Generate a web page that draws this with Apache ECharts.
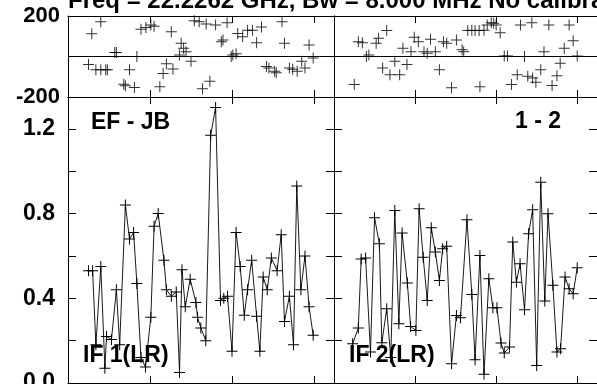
<!DOCTYPE html>
<html>
<head>
<meta charset="utf-8">
<script src="https://cdn.jsdelivr.net/npm/echarts/dist/echarts.min.js"></script>
<style>
html, body { margin: 0; padding: 0; background: #fff; }
#chart { width: 597px; height: 384px; }
</style>
</head>
<body>
<div id="chart"></div>
<script>
// amplitude vs time (time in axis-tick units), IF 1 and IF 2
var ampIF1 = [
  [0.25,0.53],[0.30,0.53],[0.34,0.18],[0.40,0.55],[0.45,0.07],[0.47,0.22],[0.53,0.205],
  [0.59,0.44],[0.63,0.18],[0.70,0.84],[0.75,0.68],[0.80,0.71],[0.84,0.47],[0.89,0.12],
  [0.945,0.075],[1.01,0.31],[1.05,0.74],[1.10,0.80],[1.17,0.58],[1.20,0.44],[1.26,0.41],
  [1.32,0.43],[1.36,0.05],[1.39,0.535],[1.43,0.36],[1.49,0.49],[1.56,0.38],[1.58,0.31],
  [1.62,0.26],[1.68,0.20],[1.74,1.17],[1.80,1.30],[1.86,0.39],[1.90,0.40],[1.945,0.41],
  [2.00,0.15],[2.05,0.71],[2.10,0.55],[2.15,0.32],[2.19,0.44],[2.24,0.58],[2.30,0.315],
  [2.34,0.15],[2.38,0.50],[2.43,0.44],[2.48,0.59],[2.55,0.53],[2.60,0.70],[2.64,0.29],
  [2.70,0.41],[2.75,0.18],[2.79,0.93],[2.84,0.44],[2.89,0.60],[2.94,0.36],[2.99,0.225]
];
var ampIF2 = [
  [0.23,0.185],[0.30,0.26],[0.335,0.585],[0.39,0.59],[0.45,0.146],[0.50,0.78],[0.56,0.657],
  [0.59,0.19],[0.65,0.35],[0.70,0.12],[0.75,0.814],[0.80,0.28],[0.84,0.708],[0.905,0.472],
  [0.945,0.267],[1.01,0.248],[1.05,0.822],[1.10,0.594],[1.15,0.39],[1.20,0.733],[1.25,0.618],
  [1.30,0.484],[1.34,0.634],[1.39,0.645],[1.45,0.091],[1.51,0.319],[1.56,0.308],[1.64,0.77],
  [1.70,0.418],[1.74,0.11],[1.80,0.602],[1.85,0.041],[1.91,0.492],[1.96,0.355],[2.01,0.355],
  [2.06,0.189],[2.10,0.142],[2.165,0.17],[2.205,0.665],[2.25,0.476],[2.295,0.563],[2.35,0.346],
  [2.40,0.704],[2.45,0.818],[2.50,0.083],[2.55,0.948],[2.60,0.387],[2.64,0.799],[2.70,0.461],
  [2.75,0.146],[2.795,0.162],[2.85,0.50],[2.90,0.445],[2.95,0.421],[3.00,0.544]
];
// phase (degrees) vs time
var phaseIF1 = [
  [0.25,-40],[0.29,112],[0.34,-66],[0.40,172],[0.40,-66],[0.46,-66],[0.48,-66],
  [0.57,20],[0.59,20],[0.68,-137],[0.70,-145],[0.75,-66],[0.81,-153],[0.84,0],
  [0.89,134],[0.95,143],[1.01,155],[1.05,150],[1.12,-149],[1.16,-84],[1.20,-36],[1.26,122],[1.28,-62],
  [1.36,8],[1.38,65],[1.41,41],[1.44,24],[1.50,-24],[1.54,176],[1.60,172],[1.64,-159],[1.685,160],
  [1.73,-122],[1.80,156],[1.87,73],[1.89,81],[1.94,167],[1.99,0],[2.01,8],[2.05,13],[2.07,114],
  [2.13,98],[2.19,130],[2.25,130],[2.30,68],[2.36,146],[2.42,-49],[2.45,-57],[2.52,-73],[2.54,-80],
  [2.61,171],[2.64,65],[2.70,-57],[2.74,-63],[2.795,-73],[2.85,-24],[2.89,-57],[2.94,57],[2.99,-8]
];
var phaseIF2 = [
  [0.25,-138],[0.30,73],[0.35,68],[0.40,0],[0.43,8],[0.52,65],[0.55,90],[0.60,-57],[0.65,128],
  [0.69,-90],[0.75,-24],[0.81,-90],[0.85,41],[0.90,-40],[0.95,24],[0.99,95],[1.04,73],[1.11,24],
  [1.15,16],[1.19,85],[1.25,24],[1.30,-65],[1.35,73],[1.39,65],[1.45,-154],[1.51,81],[1.58,33],
  [1.60,24],[1.65,128],[1.70,130],[1.74,128],[1.79,128],[1.80,-149],[1.85,130],[1.89,155],[1.94,167],
  [1.97,164],[2.00,155],[2.05,117],[2.10,3],[2.14,3],[2.19,-138],[2.26,-90],[2.30,155],[2.35,0],
  [2.39,-98],[2.44,167],[2.45,-106],[2.49,-127],[2.55,-65],[2.59,24],[2.65,155],[2.69,-143],
  [2.75,-95],[2.79,-33],[2.84,41],[2.90,155],[2.95,78],[3.00,3]
];

var titleText = 'Freq = 22.2262 GHz, Bw = 8.000 MHz No calibration';
var baselineLabels = ['EF - JB', '1 - 2'];
var ifLabels = ['IF 1(LR)', 'IF 2(LR)'];

var FONT = '"Liberation Sans", Arial, Helvetica, sans-serif';
var plus = 'path://M5,0h1v5h5v1h-5v5h-1v-5h-5v-1h5z';
var black = '#000';

var myChart = echarts.init(document.getElementById('chart'));

var grids = [
  {left: 68, top: 16, width: 266, height: 81},   // phase IF1
  {left: 334, top: 16, width: 266, height: 81},  // phase IF2
  {left: 68, top: 97, width: 266, height: 286},  // amp IF1
  {left: 334, top: 97, width: 266, height: 286}  // amp IF2
];

function phaseLabel(v) {
  return Math.abs(v) === 200 ? String(v) : '';
}
function ampLabel(v) {
  var k = Math.round(v * 10);
  // 0.0 sits on the window edge, drawn separately below so it gets cut like the original
  if (k === 0 || Math.abs(v * 10 - k) > 1e-6 || k % 4 !== 0) return '';
  return v.toFixed(1);
}

function makeX(g, pos) {
  return {
    gridIndex: g, type: 'value', position: pos,
    min: 0, max: 3.244, interval: 1,
    axisLine: {onZero: false, lineStyle: {color: black, width: 1}},
    axisTick: {inside: true, length: 7, lineStyle: {color: black}},
    axisLabel: {show: false},
    splitLine: {show: false}
  };
}
function makeY(g, pos) {
  var isPhase = g < 2;
  var showLbl = (g === 0 || g === 2) && pos === 'left';
  return {
    gridIndex: g, type: 'value', position: pos,
    min: isPhase ? -200 : 0,
    max: isPhase ? 200 : 1.35,
    interval: isPhase ? 200 : 0.2,
    axisLine: {onZero: false, lineStyle: {color: black, width: 1}},
    axisTick: {inside: true, length: 8, lineStyle: {color: black}},
    axisLabel: {
      show: showLbl,
      margin: isPhase ? 8 : 13,
      color: black,
      fontFamily: FONT,
      fontWeight: 'bold',
      fontSize: isPhase ? 22 : 23,
      formatter: isPhase ? phaseLabel : ampLabel
    },
    splitLine: {show: isPhase && pos === 'left', lineStyle: {color: black, width: 1}}
  };
}

var xAxes = [], yAxes = [];
for (var g = 0; g < 4; g++) {
  xAxes.push(makeX(g, 'bottom'), makeX(g, 'top'));
  yAxes.push(makeY(g, 'left'), makeY(g, 'right'));
}

function phaseSeries(data, g) {
  return {
    type: 'scatter', xAxisIndex: g * 2, yAxisIndex: g * 2,
    data: data, symbol: plus, symbolSize: 11,
    itemStyle: {color: black}
  };
}
function ampSeries(data, g) {
  return {
    type: 'line', xAxisIndex: g * 2, yAxisIndex: g * 2,
    data: data, symbol: plus, symbolSize: 11, showAllSymbol: true,
    itemStyle: {color: black},
    lineStyle: {color: black, width: 0.9}
  };
}

function label(text, x, y, align) {
  return {
    type: 'text', x: x, y: y, z: 100,
    style: {
      text: text, fill: black, fontFamily: FONT, fontWeight: 'bold',
      fontSize: 23, verticalAlign: 'middle', align: align || 'left'
    }
  };
}

var option = {
  animation: false,
  backgroundColor: '#fff',
  grid: grids,
  xAxis: xAxes,
  yAxis: yAxes,
  series: [
    phaseSeries(phaseIF1, 0),
    phaseSeries(phaseIF2, 1),
    ampSeries(ampIF1, 2),
    ampSeries(ampIF2, 3)
  ],
  graphic: [
    {
      type: 'text', x: 68, y: 13, z: 100,
      style: {
        text: titleText, fill: black, fontFamily: FONT, fontWeight: 'bold',
        fontSize: 24, verticalAlign: 'bottom'
      }
    },
    label(baselineLabels[0], 91, 123),
    label(baselineLabels[1], 515, 122),
    label(ifLabels[0], 83, 356),
    label(ifLabels[1], 349, 356),
    label('0.0', 55, 383, 'right')
  ]
};

myChart.setOption(option);
</script>
</body>
</html>
